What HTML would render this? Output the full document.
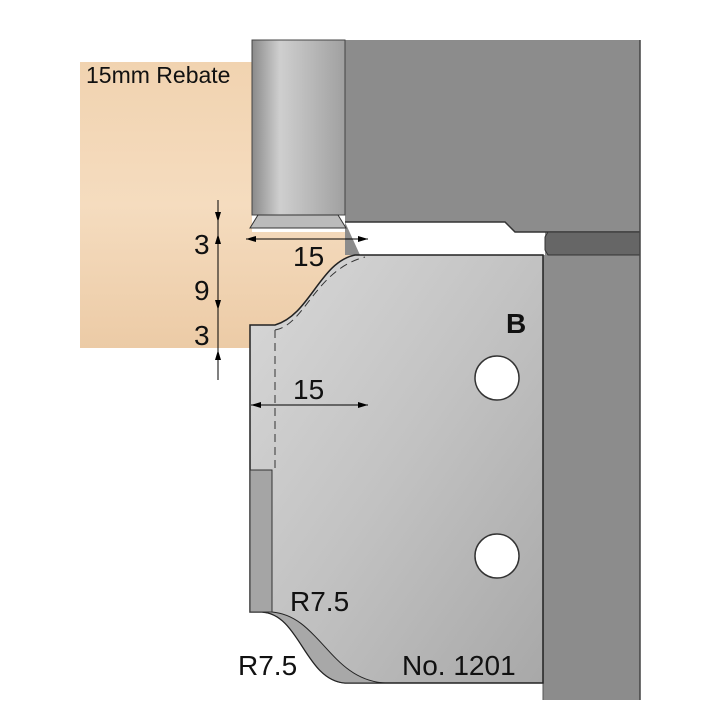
<!DOCTYPE html>
<html><head><meta charset="utf-8"><style>body{margin:0;background:#fff}svg{display:block}</style></head><body>
<svg width="720" height="720" viewBox="0 0 720 720" xmlns="http://www.w3.org/2000/svg" font-family="Liberation Sans, sans-serif">
<defs>
<linearGradient id="wood" x1="0" y1="0" x2="0" y2="1">
<stop offset="0" stop-color="#f1d3b0"/><stop offset="0.5" stop-color="#f5dcbf"/><stop offset="1" stop-color="#eccba6"/></linearGradient>
<linearGradient id="body" x1="0" y1="0" x2="1" y2="1">
<stop offset="0" stop-color="#d8d8d8"/><stop offset="0.5" stop-color="#c2c2c2"/><stop offset="1" stop-color="#a8a8a8"/></linearGradient>
<linearGradient id="spin" x1="0" y1="0" x2="1" y2="0">
<stop offset="0" stop-color="#8a8a8a"/><stop offset="0.3" stop-color="#cfcfcf"/><stop offset="1" stop-color="#a0a0a0"/></linearGradient>
<marker id="a" markerWidth="10" markerHeight="6" refX="10" refY="3" orient="auto-start-reverse" markerUnits="userSpaceOnUse"><path d="M0,0L10,3L0,6z" fill="#000"/></marker>
</defs>
<path d="M80,62H252V232H370V255H355C320,262 310,315 275,325H250V348H80Z" fill="url(#wood)"/>
<rect x="345" y="40" width="295" height="215" fill="#8c8c8c"/>
<rect x="543" y="255" width="97" height="445" fill="#8c8c8c"/>
<path d="M345,222H505L515,232H545V255H360Z" fill="#fff"/>
<path d="M345,222H505L515,232H640" fill="none" stroke="#333" stroke-width="1.5"/>
<path d="M548,232H640V255H548L545,250V237Z" fill="#666" stroke="#333"/>
<line x1="640" y1="40" x2="640" y2="700" stroke="#444" stroke-width="1.5"/>
<line x1="543" y1="255" x2="543" y2="700" stroke="#555"/>
<rect x="252" y="40" width="93" height="175" fill="url(#spin)" stroke="#444"/>
<path d="M258,215H338L346,228H250Z" fill="#bbb" stroke="#333"/>
<path d="M250,325H275C310,315 320,262 355,255H543V683H345C305,680 300,614 262,612H250Z" fill="url(#body)" stroke="#222" stroke-width="1.5"/>
<path d="M262,612C300,614 305,680 345,683H385C330,680 320,616 272,612Z" fill="#a8a8a8" stroke="#222"/>
<path d="M250,470H272V612H250Z" fill="#a5a5a5" stroke="#333"/>
<path d="M275,330V470M275,330C305,325 315,270 365,257" fill="none" stroke="#333" stroke-dasharray="8,5"/>
<circle cx="497" cy="378" r="22" fill="#fff" stroke="#333" stroke-width="1.5"/>
<circle cx="497" cy="556" r="22" fill="#fff" stroke="#333" stroke-width="1.5"/>
<line x1="218" y1="200" x2="218" y2="380" stroke="#000"/>
<path d="M218,222l-3,-10h6z M218,234l-3,10h6z M218,310l-3,-10h6z M218,350l-3,10h6z" fill="#000"/>
<line x1="246" y1="239" x2="368" y2="239" stroke="#000" marker-start="url(#a)" marker-end="url(#a)"/>
<line x1="251" y1="405" x2="368" y2="405" stroke="#000" marker-start="url(#a)" marker-end="url(#a)"/>
<g font-size="28" fill="#111">
<text x="86" y="83" font-size="23">15mm Rebate</text>
<text x="194" y="254">3</text><text x="194" y="300">9</text><text x="194" y="345">3</text>
<text x="293" y="266">15</text><text x="293" y="399">15</text>
<text x="506" y="333" font-weight="bold">B</text>
<text x="290" y="611">R7.5</text><text x="238" y="675">R7.5</text>
<text x="402" y="675">No. 1201</text>
</g>
</svg>
</body></html>
